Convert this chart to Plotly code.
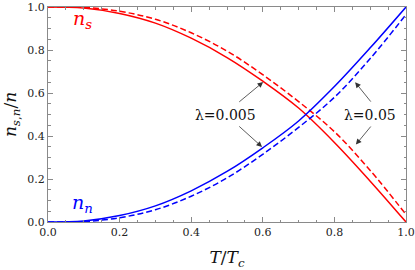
import plotly.graph_objects as go

# Reduced temperature T/Tc
t = [0.0, 0.1, 0.2, 0.3, 0.4, 0.5, 0.6, 0.7, 0.8, 0.9, 1.0]

# lambda = 0.005 (solid)
ns_solid = [1.0, 0.995, 0.97, 0.925, 0.855, 0.765, 0.655, 0.53, 0.37, 0.19, 0.0]
nn_solid = [0.0, 0.005, 0.03, 0.075, 0.145, 0.235, 0.345, 0.47, 0.63, 0.81, 1.0]

# lambda = 0.05 (dashed)
ns_dashed = [1.0, 0.998, 0.98, 0.943, 0.88, 0.795, 0.685, 0.56, 0.42, 0.24, 0.035]
nn_dashed = [0.0, 0.002, 0.02, 0.057, 0.12, 0.205, 0.315, 0.44, 0.58, 0.76, 0.965]

tick_vals = [0.0, 0.2, 0.4, 0.6, 0.8, 1.0]
tick_text = ["0.0", "0.2", "0.4", "0.6", "0.8", "1.0"]

RED = "#ff0000"
BLUE = "#0000ff"
FRAME = "#8a8a8a"
FONT = "DejaVu Serif"

fig = go.Figure()
for y, col, dash in [(ns_solid, RED, "solid"), (ns_dashed, RED, "6px,3px"),
                     (nn_solid, BLUE, "solid"), (nn_dashed, BLUE, "6px,3px")]:
    fig.add_trace(go.Scatter(x=t, y=y, mode="lines",
                             line=dict(color=col, width=1.5, dash=dash, shape="spline", smoothing=1.0),
                             showlegend=False, hoverinfo="skip"))

axis_common = dict(range=[0, 1], showgrid=False, zeroline=False, showline=True,
                   linecolor=FRAME, linewidth=1, mirror="allticks", automargin=False,
                   ticks="inside", ticklen=5, tickcolor=FRAME, tickwidth=1,
                   tickvals=tick_vals, ticktext=tick_text,
                   tickfont=dict(family=FONT, size=11, color="#222"),
                   minor=dict(ticks="inside", dtick=0.05, ticklen=2.5, tickcolor=FRAME, tickwidth=1))

fig.update_xaxes(**axis_common, ticklabeloverflow="allow",
                 title=dict(text="<i>T</i>/<i>T</i><sub><i>c</i></sub>",
                            font=dict(family=FONT, size=17, color="#111")))
fig.update_yaxes(**axis_common,
                 title=dict(text="<i>n</i><sub><i>s</i>,<i>n</i></sub>/<i>n</i>",
                            font=dict(family=FONT, size=17, color="#111")))

ann_font = dict(family=FONT, size=14, color="#111")
fig.add_annotation(x=0.497, y=0.498, text="λ=0.005", showarrow=False, font=ann_font)
fig.add_annotation(x=0.899, y=0.498, text="λ=0.05", showarrow=False, font=ann_font)

arrows = [
    ((0.530, 0.553), (0.601, 0.651)),
    ((0.530, 0.451), (0.598, 0.349)),
    ((0.905, 0.553), (0.858, 0.650)),
    ((0.905, 0.451), (0.860, 0.360)),
]
for (ax, ay), (x, y) in arrows:
    fig.add_annotation(x=x, y=y, ax=ax, ay=ay, xref="x", yref="y", axref="x", ayref="y",
                       text="", showarrow=True, arrowhead=2, arrowsize=1.4,
                       arrowwidth=0.8, arrowcolor="#333")

fig.add_annotation(x=0.095, y=0.94, text="<i>n</i><sub><i>s</i></sub>", showarrow=False,
                   font=dict(family=FONT, size=19, color=RED))
fig.add_annotation(x=0.095, y=0.085, text="<i>n</i><sub><i>n</i></sub>", showarrow=False,
                   font=dict(family=FONT, size=19, color=BLUE))

fig.update_layout(width=415, height=270, margin=dict(l=48, r=9, t=7, b=48),
                  paper_bgcolor="white", plot_bgcolor="white",
                  font=dict(family=FONT))

fig.write_html("out.html", config={"displayModeBar": False},
               post_script="document.body.style.margin='0';document.body.style.padding='0';document.body.style.overflow='hidden';")
